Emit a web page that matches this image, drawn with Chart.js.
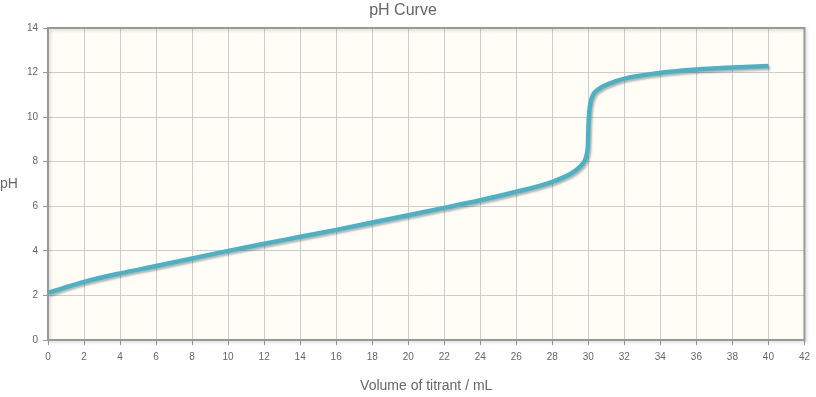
<!DOCTYPE html>
<html>
<head>
<meta charset="utf-8">
<script src="https://cdn.jsdelivr.net/npm/chart.js@4/dist/chart.umd.min.js"></script>
<style>
  html, body { margin: 0; padding: 0; background: #fff; }
  #wrap { width: 816px; height: 397px; position: relative; }
</style>
</head>
<body>
<div id="wrap"><canvas id="c"></canvas></div>
<script>
const volumes = [0, 2, 4, 6, 8, 10, 12, 14, 16, 18, 20, 22, 24, 26, 28, 29, 29.5, 29.8, 29.92, 29.98, 30, 30.03, 30.08, 30.15, 30.3, 30.6, 31, 31.5, 32, 34, 36, 38, 40];
const phValues = [2.12, 2.61, 2.99, 3.32, 3.66, 4.00, 4.32, 4.63, 4.94, 5.27, 5.60, 5.93, 6.27, 6.65, 7.10, 7.45, 7.75, 8.05, 8.35, 8.8, 9.4, 10.0, 10.45, 10.75, 11.05, 11.27, 11.45, 11.6, 11.73, 11.99, 12.14, 12.23, 12.30];

const xMax = 42, xStep = 2;
const yMax = 14, yStep = 2;

const FONT = "'Liberation Sans', Arial, sans-serif";

const points = volumes.map((v, i) => ({ x: v, y: phValues[i] }));

// cream plot background + framed border like the original
const plotFrame = {
  id: "plotFrame",
  beforeDraw(chart) {
    const { ctx, chartArea: a } = chart;
    ctx.save();
    ctx.fillStyle = "#fffdf6";
    ctx.fillRect(a.left, a.top, a.right - a.left, a.bottom - a.top);
    ctx.restore();
  },
  beforeDatasetsDraw(chart) {
    const { ctx, chartArea: a } = chart;
    ctx.save();
    ctx.shadowColor = "rgba(0,0,0,0.18)";
    ctx.shadowOffsetX = 1.5;
    ctx.shadowOffsetY = 1.5;
    ctx.shadowBlur = 3;
    ctx.strokeStyle = "#999999";
    ctx.lineWidth = 2;
    ctx.strokeRect(a.left, a.top, a.right - a.left, a.bottom - a.top);
    ctx.restore();
    // horizontal y axis label
    ctx.save();
    ctx.fillStyle = "#666";
    ctx.font = "14px " + FONT;
    ctx.textAlign = "left";
    ctx.textBaseline = "middle";
    ctx.fillText("pH", 0, (a.top + a.bottom) / 2);
    ctx.restore();
  },
  beforeDatasetDraw(chart) {
    const ctx = chart.ctx;
    ctx.save();
    ctx.shadowColor = "rgba(0,0,0,0.28)";
    ctx.shadowOffsetX = 1.5;
    ctx.shadowOffsetY = 2;
    ctx.shadowBlur = 2;
  },
  afterDatasetDraw(chart) {
    chart.ctx.restore();
  },
};

new Chart(document.getElementById("c").getContext("2d"), {
  type: "line",
  data: {
    datasets: [{
      data: points,
      borderColor: "#4bb2c5",
      borderWidth: 4.5,
      pointRadius: 0,
      fill: false,
      cubicInterpolationMode: "monotone",
      borderCapStyle: "butt",
    }],
  },
  options: {
    responsive: true,
    maintainAspectRatio: false,
    animation: false,
    layout: { padding: { left: 0, right: 10, top: 0, bottom: 0 } },
    plugins: {
      legend: { display: false },
      tooltip: { enabled: false },
      title: {
        display: true,
        text: "pH Curve",
        color: "#666",
        font: { family: FONT, size: 16, weight: "normal" },
        padding: { top: 1, bottom: 7.8 },
      },
    },
    scales: {
      x: {
        type: "linear",
        min: 0,
        max: xMax,
        ticks: { stepSize: xStep, color: "#666", font: { family: FONT, size: 10 }, padding: 6, maxRotation: 0 },
        grid: { color: "#cccccc", tickColor: "#999", tickLength: 5 },
        border: { display: false },
        title: {
          display: true,
          text: "Volume of titrant / mL",
          color: "#666",
          font: { family: FONT, size: 14 },
          padding: { top: 4, bottom: 2.6 },
        },
        afterFit(scale) { scale.height = 57; },
      },
      y: {
        type: "linear",
        min: 0,
        max: yMax,
        ticks: { stepSize: yStep, color: "#666", font: { family: FONT, size: 10 }, padding: 5 },
        grid: { color: "#cccccc", tickColor: "#999", tickLength: 5 },
        border: { display: false },
        afterFit(scale) { scale.width = 48; },
      },
    },
  },
  plugins: [plotFrame],
});
</script>
</body>
</html>
